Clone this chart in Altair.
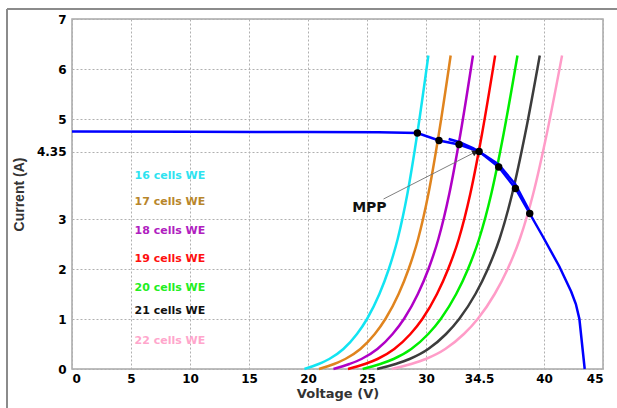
import altair as alt
import pandas as pd

# Load lines of the electrolyser stacks (16..22 cells), current levels shared by all
current_levels = [0.0, 0.1, 0.2, 0.4, 0.7, 1.0, 1.5, 2.0, 2.6, 3.5, 4.72, 6.27]
v_16 = [19.70, 20.90, 21.80, 23.00, 24.15, 25.00, 26.05, 26.85, 27.60, 28.42, 29.27, 30.20]
v_17 = [20.93, 22.21, 23.16, 24.44, 25.66, 26.56, 27.68, 28.53, 29.33, 30.20, 31.10, 32.09]
v_18 = [22.16, 23.51, 24.53, 25.88, 27.17, 28.13, 29.31, 30.21, 31.05, 31.97, 32.93, 33.98]
v_19 = [23.39, 24.82, 25.89, 27.31, 28.68, 29.69, 30.93, 31.88, 32.78, 33.75, 34.76, 35.86]
v_20 = [24.63, 26.13, 27.25, 28.75, 30.19, 31.25, 32.56, 33.56, 34.50, 35.53, 36.59, 37.75]
v_21 = [25.86, 27.43, 28.61, 30.19, 31.70, 32.81, 34.19, 35.24, 36.23, 37.30, 38.42, 39.64]
v_22 = [27.09, 28.74, 29.98, 31.63, 33.21, 34.38, 35.82, 36.92, 37.95, 39.08, 40.25, 41.53]

series_names = ["16 cells WE", "17 cells WE", "18 cells WE", "19 cells WE",
                "20 cells WE", "21 cells WE", "22 cells WE"]
curve_colors = ["#12E4F2", "#E0841E", "#B000C6", "#FF0000", "#00EE00", "#3C3C3C", "#FF9CC8"]
label_colors = ["#2FE3F0", "#B8862B", "#B020C0", "#FF1010", "#22EE22", "#111111", "#FFA6CC"]
label_y = [3.87, 3.34, 2.76, 2.20, 1.63, 1.17, 0.57]
label_x = 5.3

# PV array I-V characteristic
pv_v = [0.0, 10.0, 20.0, 26.0, 29.27, 31.1, 32.8, 34.5, 36.16, 37.58, 38.79,
        39.9, 41.3, 42.3, 42.7, 43.0, 43.45]
pv_i = [4.75, 4.745, 4.74, 4.735, 4.72, 4.57, 4.49, 4.35, 4.04, 3.61, 3.11,
        2.65, 2.05, 1.55, 1.3, 1.0, 0.0]

# Operating-point track near the knee
track_v = [31.92, 32.8, 33.98, 34.5, 36.16, 37.58, 38.79]
track_i = [4.60, 4.54, 4.42, 4.35, 4.09, 3.69, 3.15]

# Operating points (intersections)
op_v = [29.27, 31.1, 32.8, 34.5, 36.16, 37.58, 38.79]
op_i = [4.72, 4.57, 4.49, 4.35, 4.04, 3.61, 3.11]

# MPP annotation
mpp_label = "MPP"
mpp_text_v, mpp_text_i = 25.2, 3.23
arrow_v = [26.4, 34.1]
arrow_i = [3.40, 4.33]

x_ticks = [0, 5, 10, 15, 20, 25, 30, 34.5, 40, 45]
y_ticks = [0, 1, 2, 3, 4.35, 5, 6, 7]

rows = []
for name, vs in zip(series_names, [v_16, v_17, v_18, v_19, v_20, v_21, v_22]):
    for v, i in zip(vs, current_levels):
        rows.append({"series": name, "V": v, "I": i})
curves_df = pd.DataFrame(rows)
pv_df = pd.DataFrame({"V": pv_v, "I": pv_i})
track_df = pd.DataFrame({"V": track_v, "I": track_i})
op_df = pd.DataFrame({"V": op_v, "I": op_i})
arrow_df = pd.DataFrame({"V": arrow_v, "I": arrow_i})
labels_df = pd.DataFrame({"series": series_names, "V": [label_x] * 7, "I": label_y})
mpp_df = pd.DataFrame({"V": [mpp_text_v], "I": [mpp_text_i], "t": [mpp_label]})
head_df = pd.DataFrame({"V": [arrow_v[1]], "I": [arrow_i[1]]})

x_enc = alt.X("V:Q", scale=alt.Scale(domain=[0, 45], nice=False),
              axis=alt.Axis(values=x_ticks, title="Voltage (V)",
                            labelExpr="'' + datum.value"))
y_enc = alt.Y("I:Q", scale=alt.Scale(domain=[0, 7], nice=False),
              axis=alt.Axis(values=y_ticks, title="Current (A)",
                            labelExpr="'' + datum.value",
                            titleFont="Liberation Sans", titleFontSize=14))

curves = alt.Chart(curves_df).mark_line(strokeWidth=2.5, interpolate="monotone").encode(
    x=x_enc, y=y_enc,
    color=alt.Color("series:N", scale=alt.Scale(domain=series_names, range=curve_colors),
                    legend=None),
)

pv_line = alt.Chart(pv_df).mark_line(color="#0000FF", strokeWidth=2.5).encode(x="V:Q", y="I:Q")
track_line = alt.Chart(track_df).mark_line(color="#0000FF", strokeWidth=2.5).encode(x="V:Q", y="I:Q")

arrow_line = alt.Chart(arrow_df).mark_line(color="#707070", strokeWidth=0.9).encode(x="V:Q", y="I:Q")
arrow_head = alt.Chart(head_df).mark_point(
    shape="triangle", angle=63, filled=True, color="#222222", size=45, opacity=1
).encode(x="V:Q", y="I:Q")

points = alt.Chart(op_df).mark_point(filled=True, color="black", size=55, opacity=1).encode(
    x="V:Q", y="I:Q")

mpp_text = alt.Chart(mpp_df).mark_text(
    font="DejaVu Sans", fontWeight="bold", fontSize=14, color="#111111",
    align="center", baseline="middle"
).encode(x="V:Q", y="I:Q", text="t:N")

labels = alt.Chart(labels_df).mark_text(
    font="DejaVu Sans", fontWeight="bold", fontSize=11, align="left", baseline="middle"
).encode(
    x="V:Q", y="I:Q", text="series:N",
    color=alt.Color("series:N", scale=alt.Scale(domain=series_names, range=label_colors),
                    legend=None),
)

# Figure frame lines (left and top edges of the figure window)
frame_left = alt.Chart(pv_df).mark_rule(color="#8c8c8c", strokeWidth=1).encode(
    x=alt.value(-64.8), y=alt.value(-9.8), y2=alt.value(420))
frame_top = alt.Chart(pv_df).mark_rule(color="#8c8c8c", strokeWidth=1).encode(
    x=alt.value(-64.8), x2=alt.value(560), y=alt.value(-9.8))

chart = alt.layer(
    curves, pv_line, track_line, arrow_line, arrow_head, points, mpp_text, labels,
    frame_left, frame_top
).resolve_scale(color="independent").properties(
    width=531, height=350,
    autosize=alt.AutoSizeParams(type="none"),
    padding={"left": 72, "top": 19, "right": 14, "bottom": 39},
    background="white",
).configure_view(
    stroke="#a8a8a8", strokeWidth=1.5
).configure_axis(
    domain=False, ticks=False,
    grid=True, gridDash=[2, 2], gridColor="#b0b0b0", gridWidth=1,
    labelFont="DejaVu Sans", labelFontWeight="bold", labelFontSize=12, labelColor="#000000",
    titleFont="DejaVu Sans", titleFontWeight="bold", titleFontSize=13, titleColor="#333333",
).configure_axisX(
    labelPadding=4, titlePadding=3
).configure_axisY(
    labelPadding=6, titlePadding=10
)

chart.save("out.html", embed_options={"renderer": "svg", "actions": False})
